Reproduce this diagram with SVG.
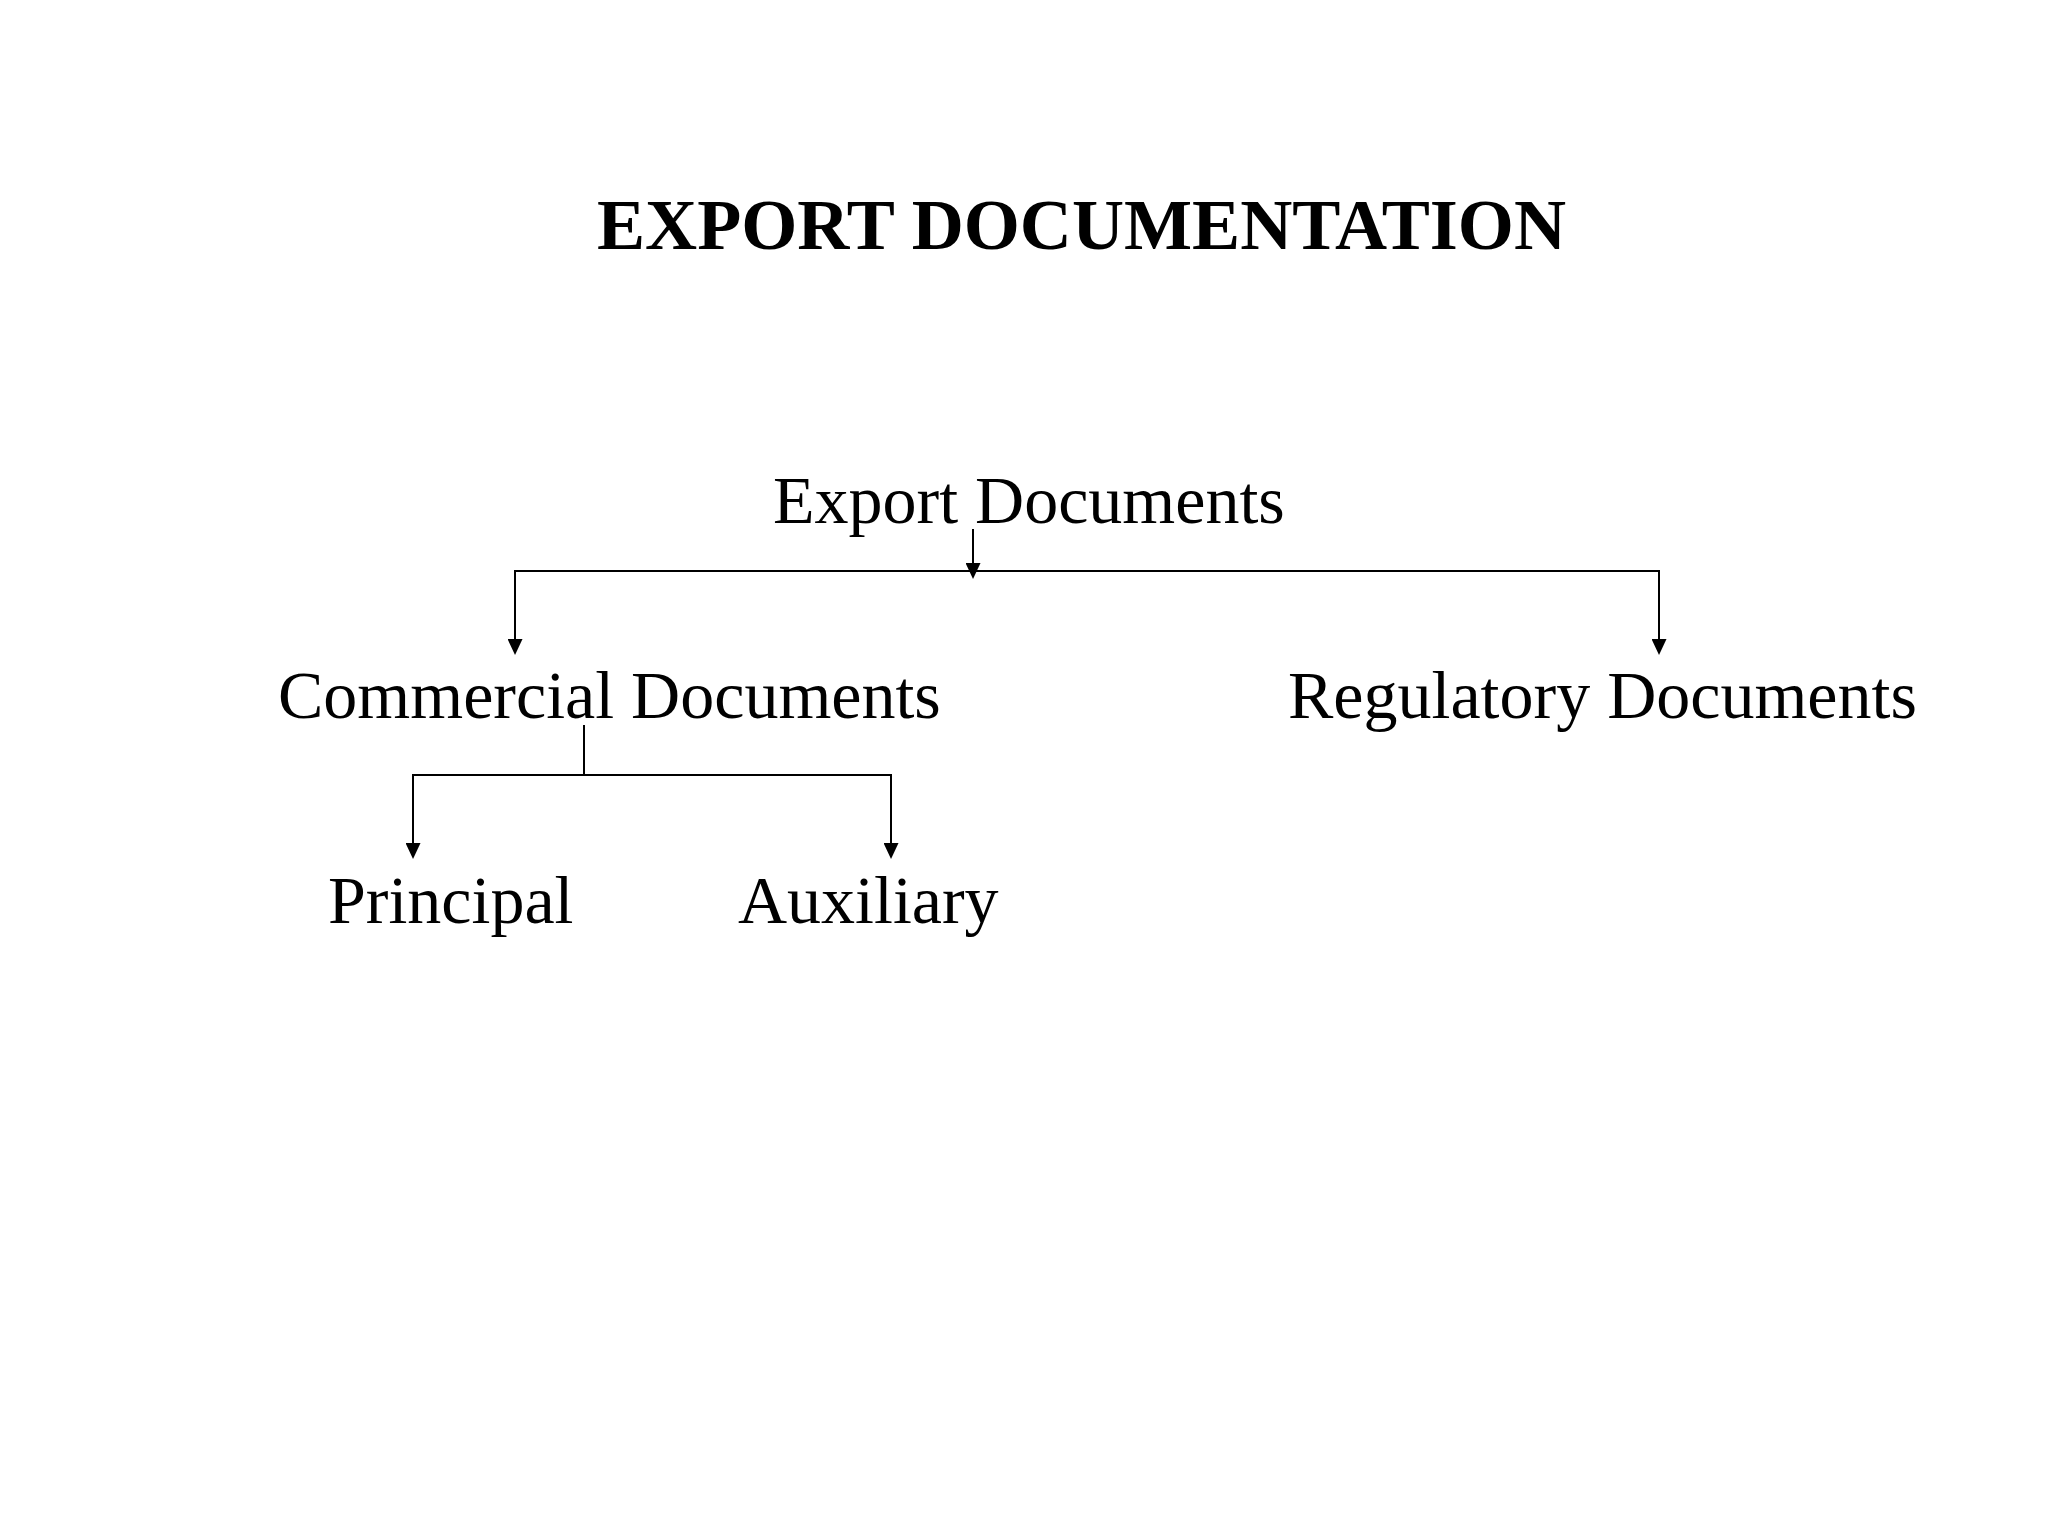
<svg xmlns="http://www.w3.org/2000/svg" width="2048" height="1536" viewBox="0 0 2048 1536">
  <style>
    .lbl { font-family: "Liberation Serif", "Times New Roman", serif; font-size: 68px; fill: #000; }
    .title { font-family: "Liberation Serif", "Times New Roman", serif; font-size: 72px; font-weight: bold; fill: #000; }
    .conn { stroke: #000; stroke-width: 2; fill: none; }
  </style>
  <defs>
    <marker id="arrow" viewBox="0 0 16 15" refX="12" refY="7.5" markerWidth="16" markerHeight="15" markerUnits="userSpaceOnUse" orient="auto">
      <path d="M0,0 L16,7.5 L0,15 z" fill="#000"/>
    </marker>
  </defs>
  <rect x="0" y="0" width="2048" height="1536" fill="#fff"/>

  <g id="title">
    <text class="title" x="597" y="249" textLength="969" lengthAdjust="spacingAndGlyphs">EXPORT DOCUMENTATION</text>
  </g>

  <g id="node-export">
    <text class="lbl" x="773" y="523">Export Documents</text>
  </g>
  <g id="node-commercial">
    <text class="lbl" x="278" y="718">Commercial Documents</text>
  </g>
  <g id="node-regulatory">
    <text class="lbl" x="1288" y="718">Regulatory Documents</text>
  </g>
  <g id="node-principal">
    <text class="lbl" x="328" y="923">Principal</text>
  </g>
  <g id="node-auxiliary">
    <text class="lbl" x="738" y="923">Auxiliary</text>
  </g>

  <g id="connectors">
    <line class="conn" x1="973" y1="529" x2="973" y2="575" marker-end="url(#arrow)"/>
    <line class="conn" x1="515" y1="571" x2="1659" y2="571"/>
    <line class="conn" x1="515" y1="570" x2="515" y2="651" marker-end="url(#arrow)"/>
    <line class="conn" x1="1659" y1="570" x2="1659" y2="651" marker-end="url(#arrow)"/>
    <line class="conn" x1="584" y1="725" x2="584" y2="775"/>
    <line class="conn" x1="413" y1="775" x2="891" y2="775"/>
    <line class="conn" x1="413" y1="774" x2="413" y2="855" marker-end="url(#arrow)"/>
    <line class="conn" x1="891" y1="774" x2="891" y2="855" marker-end="url(#arrow)"/>
  </g>
</svg>
